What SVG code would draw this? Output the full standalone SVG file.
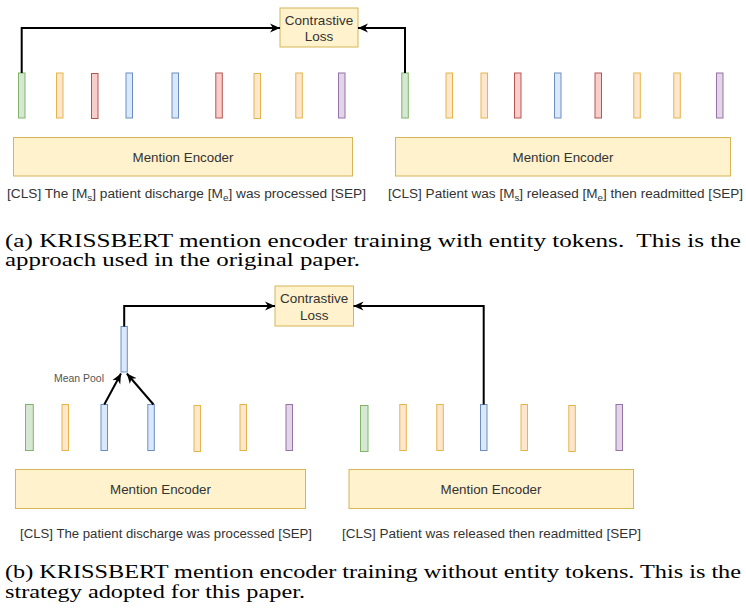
<svg xmlns="http://www.w3.org/2000/svg" width="746" height="614" viewBox="0 0 746 614">
<defs>
<style>
.g{fill:#d5e8d4;stroke:#82b366;stroke-width:1}
.o{fill:#ffe6cc;stroke:#e5b54a;stroke-width:1}
.r{fill:#f8cecc;stroke:#b85450;stroke-width:1}
.b{fill:#dae8fc;stroke:#6c8ebf;stroke-width:1}
.p{fill:#e1d5e7;stroke:#9673a6;stroke-width:1}
.box{fill:#fff2cc;stroke:#d6b656;stroke-width:1}
.t{font-family:'Liberation Sans',Arial,sans-serif;fill:#333333}
.cap{font-family:'Liberation Serif','Times New Roman',Times,serif;font-size:18px;fill:#000000}
.edge{fill:none;stroke:#000;stroke-width:2}
</style>
<marker id="ah" markerUnits="userSpaceOnUse" markerWidth="10" markerHeight="10" refX="10" refY="5" orient="auto">
<path d="M0,0.5 L10,5 L0,9.5 L3,5 Z" fill="#000"/>
</marker>
</defs>
<rect width="746" height="614" fill="#fff"/>

<!-- Panel (a) -->
<g id="a-loss">
<rect class="box" x="280" y="8" width="78" height="39"/>
<text class="t" x="319" y="25" font-size="13.5" text-anchor="middle">Contrastive</text>
<text class="t" x="319" y="40.5" font-size="13.5" text-anchor="middle">Loss</text>
</g>
<g id="a-left-tokens">
<rect class="g" x="18.5" y="73" width="6.5" height="45"/>
<rect class="o" x="56.5" y="73" width="6.5" height="45"/>
<rect class="r" x="91.5" y="73.5" width="6.5" height="45"/>
<rect class="b" x="126" y="73" width="6.5" height="45"/>
<rect class="b" x="172" y="73" width="6.5" height="45"/>
<rect class="r" x="215.8" y="73" width="6.5" height="45"/>
<rect class="o" x="254" y="73.5" width="6.5" height="45"/>
<rect class="o" x="295.8" y="73" width="6.5" height="45"/>
<rect class="p" x="338.5" y="73" width="6.5" height="45"/>
</g>
<g id="a-right-tokens">
<rect class="g" x="401.8" y="73" width="6.5" height="45"/>
<rect class="o" x="446" y="73" width="6.5" height="45"/>
<rect class="o" x="481" y="73" width="6.5" height="45"/>
<rect class="r" x="514.5" y="73" width="6.5" height="45"/>
<rect class="b" x="554.5" y="73" width="6.5" height="45"/>
<rect class="r" x="595" y="73" width="6.5" height="45"/>
<rect class="o" x="633.8" y="73" width="6.5" height="45"/>
<rect class="o" x="673.8" y="73" width="6.5" height="45"/>
<rect class="p" x="716.5" y="73" width="6.5" height="45"/>
</g>
<g id="a-left-encoder">
<rect class="box" x="13.5" y="137.5" width="339" height="38.5"/>
<text class="t" x="183" y="161.5" font-size="13" text-anchor="middle" textLength="101" lengthAdjust="spacingAndGlyphs">Mention Encoder</text>
</g>
<g id="a-right-encoder">
<rect class="box" x="395.5" y="137.5" width="335" height="38.5"/>
<text class="t" x="563" y="161.5" font-size="13" text-anchor="middle" textLength="101" lengthAdjust="spacingAndGlyphs">Mention Encoder</text>
</g>
<g id="a-left-sentence">
<text class="t" x="7" y="198" font-size="12.5" textLength="359" lengthAdjust="spacingAndGlyphs">[CLS] The [M<tspan font-size="9" dy="3">s</tspan><tspan dy="-3">] patient discharge [M</tspan><tspan font-size="9" dy="3">e</tspan><tspan dy="-3">] was processed [SEP]</tspan></text>
</g>
<g id="a-right-sentence">
<text class="t" x="388" y="198" font-size="12.5" textLength="355" lengthAdjust="spacingAndGlyphs">[CLS] Patient was [M<tspan font-size="9" dy="3">s</tspan><tspan dy="-3">] released [M</tspan><tspan font-size="9" dy="3">e</tspan><tspan dy="-3">] then readmitted [SEP]</tspan></text>
</g>

<!-- Panel (b) -->
<g id="b-loss">
<rect class="box" x="275" y="286" width="78.5" height="40"/>
<text class="t" x="314.2" y="303" font-size="13.5" text-anchor="middle">Contrastive</text>
<text class="t" x="314.2" y="319.5" font-size="13.5" text-anchor="middle">Loss</text>
</g>
<g id="b-pooled">
<rect class="b" x="121" y="326.5" width="6.3" height="45.5"/>
</g>
<g id="b-meanpool-label">
<text class="t" x="54" y="382" font-size="10.5" style="fill:#555555" textLength="50" lengthAdjust="spacingAndGlyphs">Mean Pool</text>
</g>
<g id="b-left-tokens">
<rect class="g" x="25.5" y="404.5" width="7.8" height="46"/>
<rect class="o" x="62" y="404.5" width="6.5" height="46"/>
<rect class="b" x="101" y="404.5" width="6.5" height="46"/>
<rect class="b" x="147.8" y="404.5" width="6.5" height="46"/>
<rect class="o" x="194" y="405.5" width="6.5" height="46"/>
<rect class="o" x="240" y="404.5" width="6.5" height="46"/>
<rect class="p" x="286" y="404.5" width="6.5" height="46"/>
</g>
<g id="b-right-tokens">
<rect class="g" x="360.5" y="405.5" width="7.5" height="46"/>
<rect class="o" x="399.8" y="404.5" width="6.5" height="46"/>
<rect class="o" x="436.8" y="404.5" width="6.5" height="46"/>
<rect class="b" x="480.5" y="404.5" width="6.5" height="46"/>
<rect class="o" x="521" y="404.5" width="6.5" height="46"/>
<rect class="o" x="568.8" y="405.5" width="6.5" height="46"/>
<rect class="p" x="616" y="404.5" width="6.5" height="46"/>
</g>
<g id="b-left-encoder">
<rect class="box" x="15.5" y="469.5" width="290" height="39"/>
<text class="t" x="160.5" y="494" font-size="13" text-anchor="middle" textLength="101" lengthAdjust="spacingAndGlyphs">Mention Encoder</text>
</g>
<g id="b-right-encoder">
<rect class="box" x="349" y="469.5" width="284.5" height="39"/>
<text class="t" x="491" y="494" font-size="13" text-anchor="middle" textLength="101" lengthAdjust="spacingAndGlyphs">Mention Encoder</text>
</g>
<g id="b-left-sentence">
<text class="t" x="20" y="538" font-size="12" textLength="292" lengthAdjust="spacingAndGlyphs">[CLS] The patient discharge was processed [SEP]</text>
</g>
<g id="b-right-sentence">
<text class="t" x="342" y="538" font-size="12" textLength="299" lengthAdjust="spacingAndGlyphs">[CLS] Patient was released then readmitted [SEP]</text>
</g>

<!-- Connectors -->
<g id="connectors">
<path class="edge" d="M21.7,73 V28 H280" marker-end="url(#ah)"/>
<path class="edge" d="M405,73 V28 H358" marker-end="url(#ah)"/>
<path class="edge" d="M124.2,326.5 V306 H275" marker-end="url(#ah)"/>
<path class="edge" d="M483.7,404.5 V306 H353.5" marker-end="url(#ah)"/>
<path class="edge" d="M104.3,404.5 L121,373.5" marker-end="url(#ah)"/>
<path class="edge" d="M153.5,404.5 L126.8,373.5" marker-end="url(#ah)"/>
</g>

<!-- Captions -->
<text class="cap" x="5" y="247" textLength="736" lengthAdjust="spacingAndGlyphs">(a) KRISSBERT mention encoder training with entity tokens.&#160; This is the</text>
<text class="cap" x="5" y="266" textLength="355" lengthAdjust="spacingAndGlyphs">approach used in the original paper.</text>
<text class="cap" x="5" y="578" textLength="736" lengthAdjust="spacingAndGlyphs">(b) KRISSBERT mention encoder training without entity tokens. This is the</text>
<text class="cap" x="5" y="598" textLength="300" lengthAdjust="spacingAndGlyphs">strategy adopted for this paper.</text>
</svg>
